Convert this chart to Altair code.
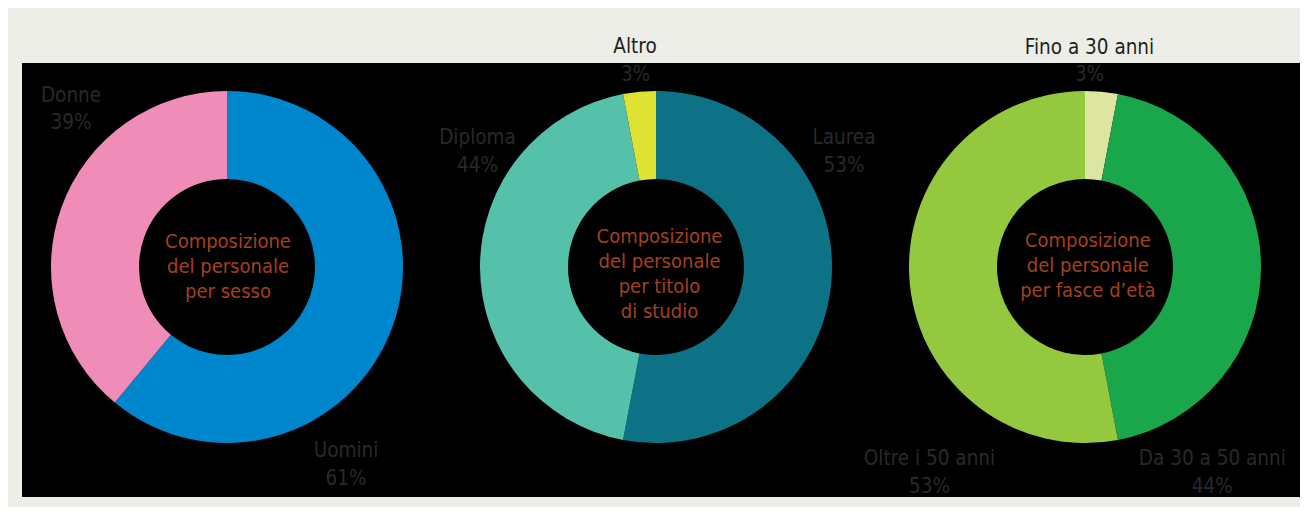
import altair as alt
import pandas as pd

# ---------------- data ----------------
sesso_cat = ["Uomini", "Donne"]
sesso_val = [61, 39]
sesso_col = ["#0086cd", "#f08cb8"]

titolo_cat = ["Laurea", "Diploma", "Altro"]
titolo_val = [53, 44, 3]
titolo_col = ["#0e7287", "#55c1aa", "#dde233"]

eta_cat = ["Fino a 30 anni", "Da 30 a 50 anni", "Oltre i 50 anni"]
eta_val = [3, 44, 53]
eta_col = ["#dde6a0", "#1aa64b", "#94c83f"]

centro_sesso = ["Composizione", "del personale", "per sesso"]
centro_titolo = ["Composizione", "del personale", "per titolo", "di studio"]
centro_eta = ["Composizione", "del personale", "per fasce d\u2019et\u00e0"]

# ---------------- style / layout ----------------
FONT = "Liberation Sans Narrow, Arial Narrow, DejaVu Sans Condensed, sans-serif"
LABEL_GREY = "#292929"
TITLE_DARK = "#231f20"
CENTER_RED = "#a3401e"
BG = "#eeeee9"
CX, CY = 205, 204
R_IN, R_OUT = 88, 176
LABEL_SIZE = 20.5
CENTER_SIZE = 20


def panel(cats, vals, cols, center_lines, center_pos, label_pos, top_cat=None,
          top_pos=None, width=429):
    df = pd.DataFrame({"cat": cats, "val": vals, "idx": list(range(len(cats)))})
    base = alt.Chart(df)
    arc = base.mark_arc(innerRadius=R_IN, outerRadius=R_OUT).encode(
        theta=alt.Theta("val:Q", stack=True),
        color=alt.Color("cat:N", scale=alt.Scale(domain=cats, range=cols), legend=None),
        order=alt.Order("idx:Q"),
        x=alt.value(CX),
        y=alt.value(CY),
    )
    layers = [arc]
    layers.append(
        base.transform_filter("datum.idx == 0")
        .mark_text(font=FONT, fontSize=CENTER_SIZE, color=CENTER_RED,
                   align="center", baseline="alphabetic", lineHeight=25)
        .encode(x=alt.value(center_pos[0]), y=alt.value(center_pos[1]),
                text=alt.value(center_lines))
    )
    for c, (lx, ly) in label_pos.items():
        layers.append(
            base.transform_filter(alt.datum.cat == c)
            .transform_calculate(lab="[datum.cat, datum.val + '%']")
            .mark_text(font=FONT, fontSize=LABEL_SIZE, color=LABEL_GREY, align="center",
                       baseline="alphabetic", lineHeight=27.5)
            .encode(x=alt.value(lx), y=alt.value(ly), text="lab:N")
        )
    if top_cat is not None:
        (nx, ny), (px, py) = top_pos
        layers.append(
            base.transform_filter(alt.datum.cat == top_cat)
            .mark_text(font=FONT, fontSize=LABEL_SIZE, color=TITLE_DARK, align="center",
                       baseline="alphabetic")
            .encode(x=alt.value(nx), y=alt.value(ny), text="cat:N")
        )
        layers.append(
            base.transform_filter(alt.datum.cat == top_cat)
            .transform_calculate(pct="datum.val + '%'")
            .mark_text(font=FONT, fontSize=LABEL_SIZE, color=LABEL_GREY, align="center",
                       baseline="alphabetic")
            .encode(x=alt.value(px), y=alt.value(py), text="pct:N")
        )
    return alt.layer(*layers).properties(width=width, height=434).resolve_scale(
        color="independent", theta="independent")


p1 = panel(sesso_cat, sesso_val, sesso_col, centro_sesso, (206, 185.3),
           {"Donne": (49, 38.5), "Uomini": (324, 394.3)})
p2 = panel(titolo_cat, titolo_val, titolo_col, centro_titolo, (208.5, 179.7),
           {"Diploma": (26.5, 81.3), "Laurea": (393, 81.3)},
           top_cat="Altro", top_pos=((184, -9.7), (184.5, 17.7)))
p3 = panel(eta_cat, eta_val, eta_col, centro_eta, (207.8, 184.3),
           {"Oltre i 50 anni": (49.5, 402), "Da 30 a 50 anni": (332.3, 402)},
           top_cat="Fino a 30 anni", top_pos=((209.5, -9), (209.5, 17.7)), width=420)

chart = (
    alt.hconcat(p1, p2, p3, spacing=0, bounds="flush")
    .resolve_scale(color="independent", theta="independent")
    .properties(background=BG, padding={"left": 14, "top": 29, "right": 0, "bottom": 10})
    .configure_view(fill="#000000", strokeWidth=0)
)

chart.save("out.html", embed_options={"renderer": "svg", "actions": False})
